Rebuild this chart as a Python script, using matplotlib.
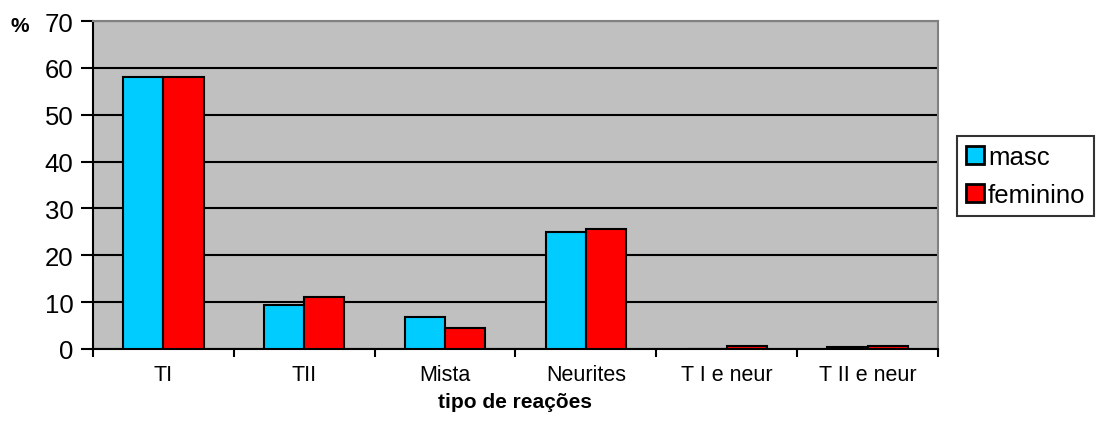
import matplotlib
matplotlib.use("Agg")
import matplotlib.pyplot as plt
import numpy as np

plt.rcParams["font.family"] = ["Liberation Sans", "DejaVu Sans"]

categories = ["TI", "TII", "Mista", "Neurites", "T I e neur", "T II e neur"]
masc = [58.0, 9.3, 6.9, 24.9, 0.0, 0.5]
feminino = [58.0, 11.2, 4.4, 25.6, 0.6, 0.6]

fig = plt.figure(figsize=(10.99, 4.35), dpi=100)
ax = fig.add_axes([93 / 1099, 1 - 350 / 435, 845 / 1099, 328 / 435])
ax.set_facecolor("#C0C0C0")

x = np.arange(len(categories))
width = 0.285
ax.bar(x - width / 2, masc, width, color="#00CCFF", edgecolor="black", linewidth=1.5,
       label="masc", zorder=3)
ax.bar(x + width / 2, feminino, width, color="#FF0000", edgecolor="black", linewidth=1.5,
       label="feminino", zorder=3)

ax.set_xlim(-0.5, len(categories) - 0.5)
ax.set_ylim(0, 70)
ax.set_yticks(range(0, 71, 10))
ax.yaxis.grid(True, color="black", linewidth=1.5, zorder=1)
ax.set_axisbelow(True)

ax.set_xticks(x)
ax.set_xticklabels(categories, fontsize=15.5)
ax.set_xticks(np.arange(-0.5, len(categories)), minor=True)
ax.tick_params(axis="x", which="major", length=0, pad=11)
ax.tick_params(axis="x", which="minor", length=6, width=1.5, direction="out")
ax.tick_params(axis="y", labelsize=18.5, length=9, width=1.5, direction="out", pad=5)

for side in ("top", "right"):
    ax.spines[side].set_color("#808080")
    ax.spines[side].set_linewidth(1.5)
for side in ("left", "bottom"):
    ax.spines[side].set_linewidth(1.5)

ax.set_xlabel("tipo de reações", fontsize=15, fontweight="bold", labelpad=5)
fig.text(20 / 1099, 1 - 27 / 435, "%", fontsize=15, fontweight="bold", ha="center", va="center")

leg = fig.legend(loc="upper left", bbox_to_anchor=(957 / 1099, 1 - 137 / 435),
                 fontsize=18.5, frameon=True, fancybox=False, handlelength=0.7,
                 handleheight=0.7, handletextpad=0.15, borderpad=0.35, labelspacing=0.55,
                 borderaxespad=0)
leg.get_frame().set_edgecolor("black")
leg.get_frame().set_linewidth(1.5)
for h in leg.legend_handles:
    h.set_linewidth(2)

fig.savefig("out.png", dpi=100)
